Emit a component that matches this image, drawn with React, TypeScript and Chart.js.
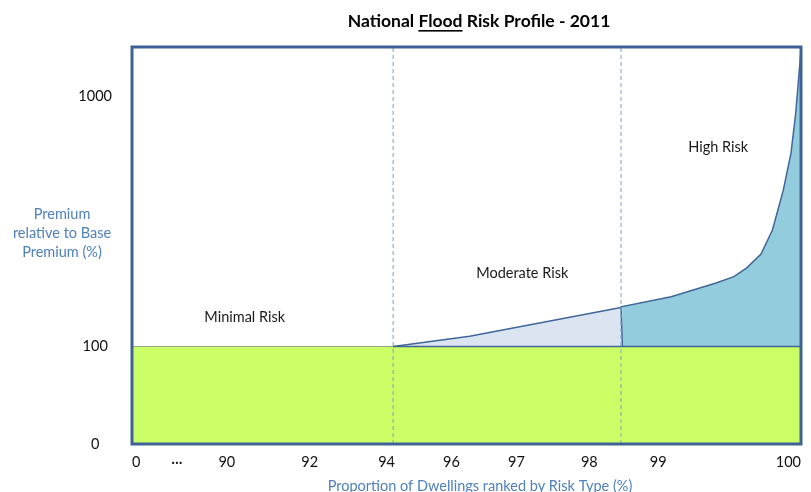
import React, { useEffect, useRef } from 'react';
import { Chart, registerables, LinearScale } from 'chart.js';

// ---------- data ----------
const X_TICK_VALUES = [0, 45, 90, 92, 94, 96, 97, 98, 99, 100];
const X_TICK_LABELS = ['0', '···', '90', '92', '94', '96', '97', '98', '99', '100'];
const Y_TICK_VALUES = [0, 100, 1000];
const Y_MAX = 1570;

const BASE_PREMIUM = 100;
const RISK_BOUNDARIES = [94.2, 98.46];

const MODERATE_X = [94.2, 96.28, 98.46];
const MODERATE_Y = [100, 110, 143];

const HIGH_X = [98.48, 98.46, 99.09, 99.4, 99.53, 99.62, 99.72, 99.8, 99.876, 99.93, 99.963, 100];
const HIGH_Y = [100, 144, 158, 179, 190, 206, 234, 292, 421, 592, 855, 1526];

const REGION_LABELS = ['Minimal Risk', 'Moderate Risk', 'High Risk'];
const REGION_LABEL_X = [90.43, 97.08, 99.42];
const REGION_LABEL_Y = [131, 196, 626];

// ---------- axis layout (warped axes as in the original) ----------
const X_TICK_FRACTIONS = [0, 0.0672, 0.1418, 0.2657, 0.3806, 0.4776, 0.5746, 0.6836, 0.7866, 1];
const Y_DECADE = 2.569; // height of one decade above 100, relative to the 0-100 band

const FONT = 'Lato, "Open Sans", "Liberation Sans", sans-serif';
const TEXT_SIZE = 14.5;
const BORDER = '#3e6297';
const LINE = '#41669a';
const GREEN = '#ccff66';
const MODERATE_FILL = '#dbe5f1';
const HIGH_FILL = '#93cddd';
const BLUE_TEXT = '#4f81bd';

function xToFrac(v: number): number {
  const vs = X_TICK_VALUES, fs = X_TICK_FRACTIONS;
  if (v <= vs[0]) return fs[0];
  for (let i = 1; i < vs.length; i++) {
    if (v <= vs[i]) {
      const t = (v - vs[i - 1]) / (vs[i] - vs[i - 1]);
      return fs[i - 1] + t * (fs[i] - fs[i - 1]);
    }
  }
  return fs[fs.length - 1];
}
function fracToX(f: number): number {
  const vs = X_TICK_VALUES, fs = X_TICK_FRACTIONS;
  for (let i = 1; i < fs.length; i++) {
    if (f <= fs[i]) {
      const t = (f - fs[i - 1]) / (fs[i] - fs[i - 1]);
      return vs[i - 1] + t * (vs[i] - vs[i - 1]);
    }
  }
  return vs[vs.length - 1];
}
function yToPos(v: number): number {
  return v <= 100 ? v / 100 : 1 + Math.log10(v / 100) * Y_DECADE;
}
function posToY(p: number): number {
  return p <= 1 ? p * 100 : 100 * Math.pow(10, (p - 1) / Y_DECADE);
}

class WarpXScale extends LinearScale {
  static id = 'warpX';
  getPixelForValue(value: number) {
    return this.getPixelForDecimal(xToFrac(value));
  }
  getValueForPixel(pixel: number) {
    return fracToX(this.getDecimalForPixel(pixel));
  }
}
class WarpYScale extends LinearScale {
  static id = 'warpY';
  getPixelForValue(value: number) {
    const lo = yToPos((this as any).min), hi = yToPos((this as any).max);
    return this.getPixelForDecimal((yToPos(value) - lo) / (hi - lo));
  }
  getValueForPixel(pixel: number) {
    const lo = yToPos((this as any).min), hi = yToPos((this as any).max);
    return posToY(lo + this.getDecimalForPixel(pixel) * (hi - lo));
  }
}

Chart.register(...registerables, WarpXScale, WarpYScale);

const zip = (xs: number[], ys: number[]) => xs.map((x, i) => ({ x, y: ys[i] }));

const overlayPlugin = {
  id: 'overlay',
  afterDatasetsDraw(chart: any) {
    const { ctx, chartArea: a, scales } = chart;
    const x = scales.x, y = scales.y;
    ctx.save();
    // plot frame
    ctx.strokeStyle = BORDER;
    ctx.lineWidth = 3;
    ctx.strokeRect(a.left, a.top, a.right - a.left, a.bottom - a.top);

    // region labels
    ctx.fillStyle = '#1a1a1a';
    ctx.font = `${TEXT_SIZE}px ${FONT}`;
    ctx.textAlign = 'center';
    ctx.textBaseline = 'middle';
    REGION_LABELS.forEach((t, i) => {
      ctx.fillText(t, x.getPixelForValue(REGION_LABEL_X[i]), y.getPixelForValue(REGION_LABEL_Y[i]));
    });

    // main title with underlined word
    ctx.font = `bold 17.5px ${FONT}`;
    ctx.fillStyle = '#000';
    ctx.textAlign = 'left';
    const parts = ['National ', 'Flood', ' Risk Profile - 2011'];
    const widths = parts.map((p) => ctx.measureText(p).width);
    const total = widths.reduce((s, w) => s + w, 0);
    let cx = 479 - total / 2;
    const ty = 21;
    parts.forEach((p, i) => {
      ctx.fillText(p, cx, ty);
      if (i === 1) {
        ctx.fillRect(cx, ty + 9, widths[i], 1.6);
      }
      cx += widths[i];
    });

    // y axis title (horizontal, three lines)
    ctx.fillStyle = BLUE_TEXT;
    ctx.font = `${TEXT_SIZE}px ${FONT}`;
    ctx.textAlign = 'center';
    ['Premium', 'relative to Base', 'Premium (%)'].forEach((l, i) => {
      ctx.fillText(l, 62, 214 + i * 19);
    });

    // x axis title
    ctx.fillText('Proportion of Dwellings ranked by Risk Type (%)', 480, 486);
    ctx.restore();
  },
};

export default function App() {
  const ref = useRef<HTMLCanvasElement | null>(null);

  useEffect(() => {
    if (!ref.current) return;
    Chart.defaults.font.family = FONT;
    const chart = new Chart(ref.current, {
      type: 'line',
      data: {
        datasets: [
          ...RISK_BOUNDARIES.map((b) => ({
            data: [{ x: b, y: 0 }, { x: b, y: Y_MAX }],
            borderColor: '#7f9fcb',
            borderWidth: 1,
            borderDash: [4, 3],
            pointRadius: 0,
            fill: false,
            order: 0,
          })),
          {
            data: [{ x: RISK_BOUNDARIES[0], y: BASE_PREMIUM }, { x: 100, y: BASE_PREMIUM }],
            borderColor: LINE,
            borderWidth: 1.5,
            pointRadius: 0,
            fill: false,
            order: 1,
          },
          {
            data: zip(HIGH_X, HIGH_Y),
            borderColor: LINE,
            borderWidth: 1.5,
            backgroundColor: HIGH_FILL,
            pointRadius: 0,
            fill: { value: BASE_PREMIUM },
            order: 2,
          },
          {
            data: zip(MODERATE_X, MODERATE_Y),
            borderColor: LINE,
            borderWidth: 1.5,
            backgroundColor: MODERATE_FILL,
            pointRadius: 0,
            fill: { value: BASE_PREMIUM },
            order: 3,
          },
          {
            data: [{ x: 0, y: BASE_PREMIUM }, { x: 100, y: BASE_PREMIUM }],
            borderColor: '#93a98a',
            borderWidth: 1,
            backgroundColor: GREEN,
            pointRadius: 0,
            fill: 'origin',
            order: 4,
          },
        ],
      },
      options: {
        animation: false,
        responsive: false,
        events: [],
        layout: { padding: { left: 0, right: 9, top: 47, bottom: 0 } },
        plugins: {
          legend: { display: false },
          tooltip: { enabled: false },
          title: { display: false },
        },
        scales: {
          x: {
            type: 'warpX' as any,
            min: 0,
            max: 100,
            grid: { display: false, drawTicks: false },
            border: { display: false },
            afterBuildTicks: (s: any) => {
              s.ticks = X_TICK_VALUES.map((value) => ({ value }));
            },
            afterFit: (s: any) => {
              s.height = 48;
            },
            ticks: {
              autoSkip: false,
              maxRotation: 0,
              minRotation: 0,
              align: 'inner',
              padding: 10,
              color: '#111',
              font: { size: TEXT_SIZE, family: FONT },
              callback: (_v: any, i: number) => X_TICK_LABELS[i],
            },
          },
          y: {
            type: 'warpY' as any,
            min: 0,
            max: Y_MAX,
            grid: { display: false, drawTicks: false },
            border: { display: false },
            afterBuildTicks: (s: any) => {
              s.ticks = Y_TICK_VALUES.map((value) => ({ value }));
            },
            afterFit: (s: any) => {
              s.width = 132;
            },
            ticks: {
              crossAlign: 'center',
              padding: 20,
              color: '#111',
              font: { size: TEXT_SIZE, family: FONT },
              callback: (v: any) => String(v),
            },
          },
        },
      },
      plugins: [overlayPlugin],
    } as any);
    return () => chart.destroy();
  }, []);

  return (
    <div style={{ position: 'absolute', left: 0, top: 0, width: 811, height: 492, background: '#fff' }}>
      <canvas ref={ref} width={811} height={492} />
    </div>
  );
}
